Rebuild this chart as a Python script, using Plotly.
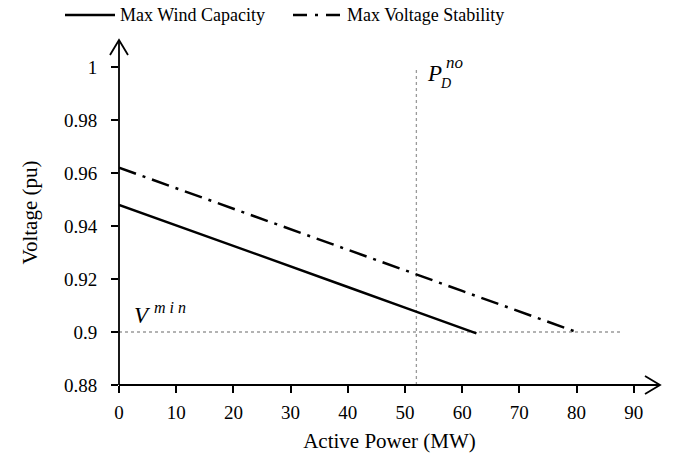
import plotly.graph_objects as go

# Data
wind_power = [0, 10, 20, 30, 40, 50, 62.5]
wind_voltage = [0.948, 0.9403, 0.9325, 0.9247, 0.917, 0.9092, 0.8995]
stab_power = [0, 10, 20, 30, 40, 50, 60, 70, 80]
stab_voltage = [0.962, 0.9543, 0.9465, 0.9388, 0.931, 0.9233, 0.9155, 0.9078, 0.900]
series_names = ["Max Wind Capacity", "Max Voltage Stability"]
v_min = 0.9
p_d_no = 52
vmin_line_end = 88
pd_line_top = 1.0
x_ticks = [0, 10, 20, 30, 40, 50, 60, 70, 80, 90]
y_ticks = [0.88, 0.9, 0.92, 0.94, 0.96, 0.98, 1.0]
y_tick_labels = ["0.88", "0.9", "0.92", "0.94", "0.96", "0.98", "1"]

X_MAX = 94.6
Y_MIN = 0.88
Y_MAX = 1.0102
FONT = "Liberation Serif"
DASHDOT = "18px,7px,3px,7px"

W, H = 683, 463
ML, MR, MT, MB = 119, 23, 40, 78
PW, PH = W - ML - MR, H - MT - MB


def px(x):
    return (x - ML) / PW


def py(y):
    return (H - MB - y) / PH


fig = go.Figure()

fig.add_trace(go.Scatter(x=wind_power, y=wind_voltage, mode="lines",
                         name=series_names[0], showlegend=False,
                         line=dict(color="black", width=2.5)))
fig.add_trace(go.Scatter(x=stab_power, y=stab_voltage, mode="lines",
                         name=series_names[1], showlegend=False,
                         line=dict(color="black", width=2.5, dash=DASHDOT)))

# reference lines
fig.add_shape(type="line", x0=0, x1=vmin_line_end, y0=v_min, y1=v_min,
              line=dict(color="#9a9a9a", width=1.3, dash="3px,3px"), layer="below")
fig.add_shape(type="line", x0=p_d_no, x1=p_d_no, y0=Y_MIN, y1=pd_line_top,
              line=dict(color="#9a9a9a", width=1.3, dash="3px,3px"), layer="below")

# axis lines with open chevron arrows (paper-referenced, so not clipped)
AX = dict(color="black", width=1.8)
fig.add_shape(type="line", xref="paper", yref="paper", x0=0, x1=1, y0=0, y1=0, line=AX)
fig.add_shape(type="line", xref="paper", yref="paper", x0=0, x1=0, y0=0, y1=1, line=AX)
fig.add_shape(type="path", xref="paper", yref="paper", xsizemode="pixel", ysizemode="pixel",
              xanchor=1, yanchor=0, path="M-15,9 L0,0 L-15,-9", line=AX)
fig.add_shape(type="path", xref="paper", yref="paper", xsizemode="pixel", ysizemode="pixel",
              xanchor=0, yanchor=1, path="M-9,-15 L0,0 L9,-15", line=AX)

# custom legend (long line samples as in the reference)
fig.add_shape(type="line", xref="paper", yref="paper", x0=px(65), x1=px(115),
              y0=py(15), y1=py(15), line=dict(color="black", width=2.5))
fig.add_annotation(xref="paper", yref="paper", x=px(118), y=py(15),
                   text=series_names[0], showarrow=False, xanchor="left", yanchor="middle",
                   font=dict(family=FONT, size=18, color="black"))
fig.add_shape(type="line", xref="paper", yref="paper", x0=px(293), x1=px(345),
              y0=py(15), y1=py(15), line=dict(color="black", width=2.5, dash="14px,8px,3px,8px"))
fig.add_annotation(xref="paper", yref="paper", x=px(345), y=py(15),
                   text=series_names[1], showarrow=False, xanchor="left", yanchor="middle",
                   font=dict(family=FONT, size=18, color="black"))

# labels
fig.add_annotation(x=p_d_no, y=0.9975, xref="x", yref="y", xshift=9,
                   text="<i>P</i>", showarrow=False, xanchor="left",
                   font=dict(family=FONT, size=23, color="black"))
fig.add_annotation(x=p_d_no, y=0.9975, xref="x", yref="y", xshift=22, yshift=-10,
                   text="<i>D</i>", showarrow=False, xanchor="left",
                   font=dict(family=FONT, size=14, color="black"))
fig.add_annotation(x=p_d_no, y=0.9975, xref="x", yref="y", xshift=28, yshift=11,
                   text="<i>no</i>", showarrow=False, xanchor="left",
                   font=dict(family=FONT, size=17, color="black"))
fig.add_annotation(x=0, y=v_min, xref="x", yref="y", xshift=13, yshift=17,
                   text="<i>V</i>", showarrow=False, xanchor="left",
                   font=dict(family=FONT, size=23, color="black"))
fig.add_annotation(x=0, y=v_min, xref="x", yref="y", xshift=33, yshift=25,
                   text="<i>m i n</i>", showarrow=False, xanchor="left",
                   font=dict(family=FONT, size=16, color="black"))

fig.update_layout(
    width=W, height=H,
    margin=dict(l=ML, r=MR, t=MT, b=MB, autoexpand=False),
    paper_bgcolor="white", plot_bgcolor="white",
    font=dict(family=FONT, size=18, color="black"),
    showlegend=False,
    xaxis=dict(range=[0, X_MAX], tickvals=x_ticks, showgrid=False, zeroline=False,
               showline=False, ticks="outside", ticklen=7, tickwidth=1.5,
               tickcolor="black", automargin=False, ticklabelstandoff=3,
               tickfont=dict(family=FONT, size=19, color="black"),
               title=dict(text="Active Power (MW)",
                          font=dict(family=FONT, size=21, color="black"), standoff=11)),
    yaxis=dict(range=[Y_MIN, Y_MAX], tickvals=y_ticks, ticktext=y_tick_labels,
               showgrid=False, zeroline=False, showline=False, ticks="outside",
               ticklen=7, tickwidth=1.5, tickcolor="black", automargin=False,
               ticklabelstandoff=10,
               tickfont=dict(family=FONT, size=19, color="black"),
               title=dict(text="Voltage (pu)",
                          font=dict(family=FONT, size=21, color="black"), standoff=20)),
)

fig.write_html("out.html", config={"displayModeBar": False},
               post_script="document.body.style.margin='0';")
